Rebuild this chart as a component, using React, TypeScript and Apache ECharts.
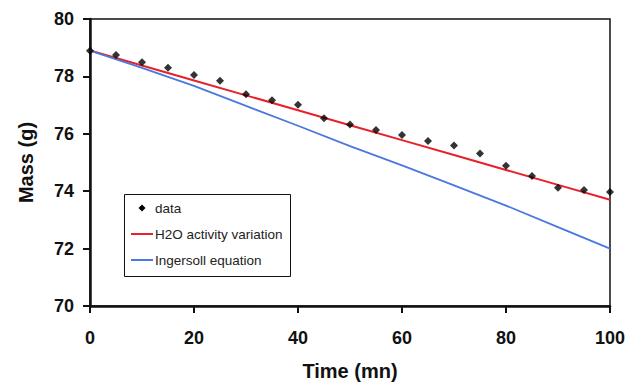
import React, { useEffect, useRef } from "react";
import * as echarts from "echarts";

const times = [0, 5, 10, 15, 20, 25, 30, 35, 40, 45, 50, 55, 60, 65, 70, 75, 80, 85, 90, 95, 100];
const dataMass = [78.89, 78.75, 78.49, 78.3, 78.05, 77.85, 77.38, 77.17, 77.01, 76.54, 76.32, 76.13, 75.96, 75.75, 75.59, 75.31, 74.89, 74.53, 74.12, 74.04, 73.97];

const modelTimes = [0, 10, 20, 30, 40, 50, 60, 70, 80, 90, 100];
const h2oMass = [78.9, 78.38, 77.86, 77.34, 76.82, 76.3, 75.78, 75.26, 74.74, 74.22, 73.7];
const ingersollMass = [78.9, 78.3, 77.67, 76.97, 76.28, 75.57, 74.9, 74.2, 73.5, 72.75, 72.0];

const xTicks = [0, 20, 40, 60, 80, 100];
const yTicks = [70, 72, 74, 76, 78, 80];

const legendLabels = ["data", "H2O activity variation", "Ingersoll equation"];

export default function App() {
  const ref = useRef<HTMLDivElement>(null);
  useEffect(() => {
    if (!ref.current) return;
    document.body.style.margin = "0";
    const chart = echarts.init(ref.current, null, { renderer: "svg" });
    const font = "Arial, 'Liberation Sans', sans-serif";
    chart.setOption({
      animation: false,
      backgroundColor: "#fff",
      grid: {
        left: 90,
        right: 18,
        top: 19,
        bottom: 77,
        containLabel: false,
        outerBoundsMode: "none",
        show: true,
        borderColor: "#111",
        borderWidth: 1.5,
      },
      xAxis: {
        type: "value",
        min: xTicks[0],
        max: xTicks[xTicks.length - 1],
        interval: 20,
        name: "Time (mn)",
        nameLocation: "middle",
        nameGap: 55,
        nameTextStyle: { fontFamily: font, fontWeight: "bold", fontSize: 20, color: "#111" },
        axisLine: { show: true, lineStyle: { color: "#111", width: 2.5 } },
        axisTick: { show: true, inside: false, length: 7, lineStyle: { color: "#111", width: 2 } },
        axisLabel: { margin: 23, fontFamily: font, fontWeight: "bold", fontSize: 18, color: "#111" },
        splitLine: { show: false },
      },
      yAxis: {
        type: "value",
        min: yTicks[0],
        max: yTicks[yTicks.length - 1],
        interval: 2,
        name: "Mass (g)",
        nameLocation: "middle",
        nameGap: 54,
        nameTextStyle: { fontFamily: font, fontWeight: "bold", fontSize: 20, color: "#111" },
        axisLine: { show: true, lineStyle: { color: "#111", width: 2.5 } },
        axisTick: { show: true, inside: false, length: 7, lineStyle: { color: "#111", width: 2 } },
        axisLabel: { margin: 16, fontFamily: font, fontWeight: "bold", fontSize: 18, color: "#111" },
        splitLine: { show: false },
      },
      series: [
        {
          name: legendLabels[1],
          type: "line",
          data: modelTimes.map((t, i) => [t, h2oMass[i]]),
          showSymbol: false,
          lineStyle: { color: "#e8202a", width: 2 },
          z: 2,
        },
        {
          name: legendLabels[2],
          type: "line",
          data: modelTimes.map((t, i) => [t, ingersollMass[i]]),
          showSymbol: false,
          lineStyle: { color: "#4a78e0", width: 1.8 },
          z: 2,
        },
        {
          name: legendLabels[0],
          type: "scatter",
          data: times.map((t, i) => [t, dataMass[i]]),
          symbol: "diamond",
          symbolSize: 8,
          itemStyle: { color: "#000" },
          z: 3,
        },
      ],
      graphic: [
        {
          type: "rect",
          shape: { x: 124.5, y: 194.5, width: 166, height: 82 },
          style: { fill: "#fff", stroke: "#111", lineWidth: 1 },
          z: 10,
        },
        {
          type: "polygon",
          shape: { points: [[142, 204.5], [145.5, 208], [142, 211.5], [138.5, 208]] },
          style: { fill: "#000" },
          z: 11,
        },
        {
          type: "line",
          shape: { x1: 131, y1: 234, x2: 153, y2: 234 },
          style: { stroke: "#e8202a", lineWidth: 2 },
          z: 11,
        },
        {
          type: "line",
          shape: { x1: 131, y1: 260, x2: 153, y2: 260 },
          style: { stroke: "#4a78e0", lineWidth: 2 },
          z: 11,
        },
        ...legendLabels.map((label, i) => ({
          type: "text",
          x: 155,
          y: 208 + i * 26,
          style: {
            text: label,
            font: `13.5px ${font}`,
            fill: "#222",
            verticalAlign: "middle",
            align: "left",
          },
          z: 11,
        })),
      ],
    });
    return () => chart.dispose();
  }, []);
  return (
    <div
      ref={ref}
      style={{ position: "fixed", left: 0, top: 0, width: 628, height: 383 }}
    />
  );
}
